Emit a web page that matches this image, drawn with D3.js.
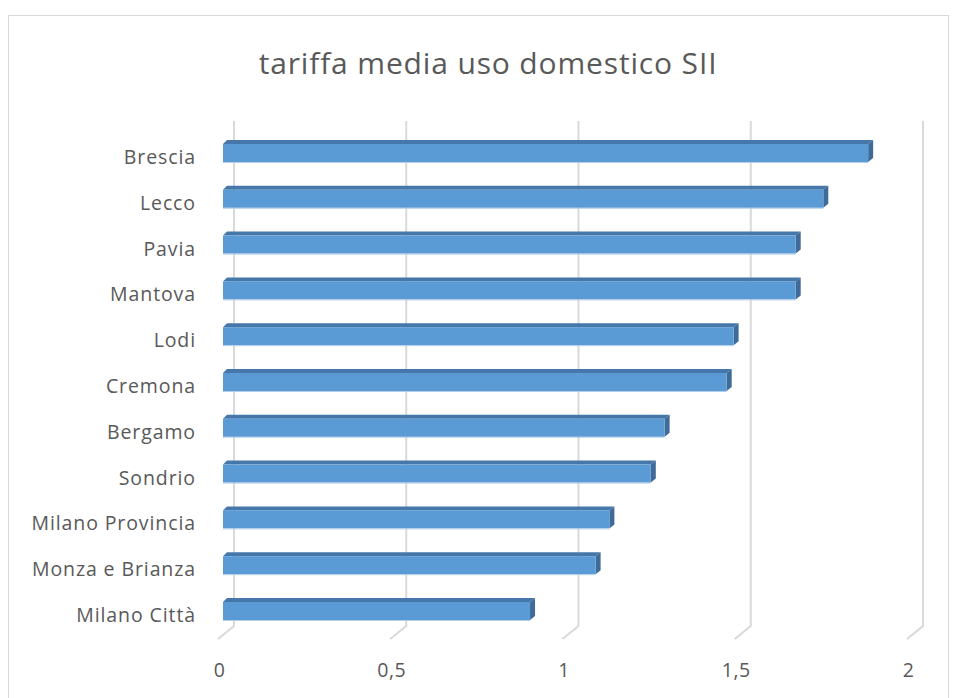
<!DOCTYPE html>
<html>
<head>
<meta charset="utf-8">
<script src="https://cdn.jsdelivr.net/npm/d3@7"></script>
<style>
  html, body { margin: 0; padding: 0; background: #ffffff; }
  svg { display: block; }
  text { font-family: "Open Sans", "Noto Sans", sans-serif; fill: #595959; }
</style>
</head>
<body>
<svg id="chart" width="956" height="698"></svg>
<script>
// Average domestic tariff for the integrated water service (SII), by province
const categories = ["Brescia", "Lecco", "Pavia", "Mantova", "Lodi", "Cremona",
                    "Bergamo", "Sondrio", "Milano Provincia", "Monza e Brianza", "Milano Città"];
const values = [1.87, 1.74, 1.66, 1.66, 1.48, 1.46, 1.28, 1.24, 1.12, 1.08, 0.89];
const tickValues = [0, 0.5, 1, 1.5, 2];
const tickLabels = ["0", "0,5", "1", "1,5", "2"];
const title = "tariffa media uso domestico SII";

const svg = d3.select("#chart");

// chart frame
svg.append("rect")
  .attr("x", 8.5).attr("y", 15.5)
  .attr("width", 940).attr("height", 700)
  .attr("fill", "#ffffff")
  .attr("stroke", "#d9d9d9").attr("stroke-width", 1);

// title
svg.append("text")
  .attr("x", 488).attr("y", 74)
  .attr("text-anchor", "middle")
  .style("font-size", "30px")
  .style("letter-spacing", "0.85px")
  .text(title);

// value scales at three depths of the 3D box: back wall, bar face, floor front edge
const xBack = d3.scaleLinear().domain([0, 2]).range([234, 923]);
const xBar = d3.scaleLinear().domain([0, 2]).range([223, 913]);
const xFront = d3.scaleLinear().domain([0, 2]).range([218, 907]);

const y = d3.scaleBand().domain(categories).range([130.1, 633.9]).padding(0);

const wallTop = 121, wallBottom = 626, floorFront = 639;

// gridlines on the back wall and across the floor
const grid = svg.append("g")
  .attr("fill", "none")
  .attr("stroke", "#d9d9d9")
  .attr("stroke-width", 2);
tickValues.forEach(v => {
  grid.append("path")
    .attr("d", `M${xBack(v)},${wallTop}V${wallBottom}L${xFront(v)},${floorFront}`);
});

// tick labels along the front edge of the floor
svg.append("g").selectAll("text")
  .data(tickValues)
  .join("text")
  .attr("x", d => xFront(d) + 1.5)
  .attr("y", 677)
  .attr("text-anchor", "middle")
  .style("font-size", "19.5px")
  .style("letter-spacing", "0.5px")
  .text((d, i) => tickLabels[i]);

// category labels
svg.append("g").selectAll("text")
  .data(categories)
  .join("text")
  .attr("x", 196)
  .attr("y", d => y(d) + y.bandwidth() / 2 + 11)
  .attr("text-anchor", "end")
  .style("font-size", "19.5px")
  .style("letter-spacing", "0.9px")
  .text(d => d);

// 3D bars: front face, top face, right side face
const faceH = 18, dx = 5, dy = 4;
const bars = svg.append("g").selectAll("g")
  .data(categories.map((c, i) => ({ c, v: values[i] })))
  .join("g");

bars.each(function (d) {
  const g = d3.select(this);
  const x0 = xBar(0), x1 = xBar(d.v);
  const yc = y(d.c) + y.bandwidth() / 2;
  const yt = yc - faceH / 2, yb = yc + faceH / 2;

  g.append("path")
    .attr("d", `M${x0},${yt}L${x0 + dx - 1},${yt - dy}L${x1 + dx},${yt - dy}L${x1},${yt}Z`)
    .attr("fill", "#4677aa");
  g.append("path")
    .attr("d", `M${x1},${yt}L${x1 + dx},${yt - dy}L${x1 + dx},${yb - dy}L${x1},${yb}Z`)
    .attr("fill", "#3e6b97");
  g.append("rect")
    .attr("x", x0).attr("y", yt)
    .attr("width", x1 - x0).attr("height", faceH)
    .attr("fill", "#5b9bd5");
  g.append("line")
    .attr("x1", x0).attr("x2", x1)
    .attr("y1", yb + 0.5).attr("y2", yb + 0.5)
    .attr("stroke", "#b4cde9").attr("stroke-width", 1);
});
</script>
</body>
</html>
